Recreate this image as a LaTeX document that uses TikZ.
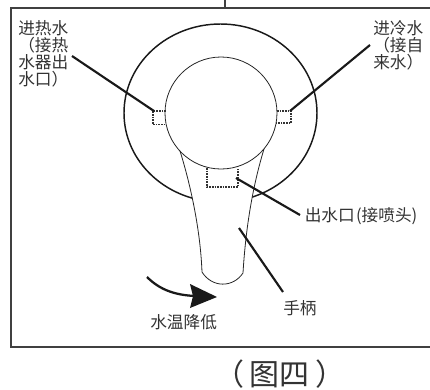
\documentclass[tikz,border=0pt]{standalone}
\usepackage{fontspec}
\setmainfont{Liberation Sans}
\newfontfamily\cjk{Noto Sans CJK SC}
\begin{document}
\begin{tikzpicture}[x=0.75pt,y=-0.75pt,
  frameline/.style={line width=1.4pt,draw=black!75},
  thinline/.style={line width=0.6pt,draw=black!85},
  ringline/.style={line width=1.1pt,draw=black!90},
  leader/.style={line width=1.6pt,draw=black!90},
  dotbox/.style={line width=0.8pt,draw=black!80,dash pattern=on 1.2pt off 0.8pt},
  lab/.style={font=\cjk\fontsize{12.5}{12.75}\selectfont,text=black!80,inner sep=0pt,align=left,anchor=north west}]
\useasboundingbox (0,0) rectangle (430,390);
\draw[frameline] (225,0) -- (225,8);
\draw[frameline] (430,8) -- (11,8) -- (11,347) -- (430,347);
\draw[ringline] (220.5,113) ellipse [x radius=96.5,y radius=89];
\draw[thinline,fill=white] (180,151) .. controls (186,170) and (200,220) .. (202,272)
  .. controls (212,288) and (233,288) .. (243,273)
  .. controls (245,240) and (250,195) .. (264,149);
\draw[thinline] (221,113) ellipse [x radius=56,y radius=56];
\draw[dotbox] (166,111) -- (153,111) -- (153,124.5) -- (165,124.5);
\draw[dotbox] (277,111) -- (291,111) -- (291,123) -- (276,123);
\draw[dotbox,line width=1pt] (207,168) -- (207,187) -- (238,187) -- (238,168);
\coordinate (hotA) at (72,56); \coordinate (hotB) at (154,111);
\coordinate (coldA) at (370,45); \coordinate (coldB) at (290,111);
\coordinate (outA) at (236,178); \coordinate (outB) at (300,215);
\coordinate (hanA) at (239,228); \coordinate (hanB) at (283,292);
\draw[leader] (hotA) -- (hotB);
\draw[leader] (coldA) -- (coldB);
\draw[leader] (outA) -- (outB);
\draw[leader] (hanA) -- (hanB);
\coordinate (arrA) at (147,277); \coordinate (arrB) at (195,296);
\draw[line width=1.7pt,draw=black!90] (arrA) .. controls (160,290) and (175,295) .. (arrB);
\fill[black!90] (190,284) -- (217,297) -- (190,308) -- (193,296) -- cycle;
\node[lab] (hot) at (18,20.5) {进热水\\（接热\\水器出\\水口）};
\node[lab] (cold) at (373,20.5) {进冷水\\（接自\\来水）};
\node[lab] (out) at (304.5,207) {出水口\hspace{1pt}(接喷头)};
\node[lab] (han) at (283,300) {手柄};
\node[lab] (temp) at (150,314) {水温降低};
\node[font=\cjk\fontsize{22.5}{25}\selectfont,text=black!80,inner sep=0] (fig) at (280,374.5) {（\kern4pt图四\kern4pt）};
\end{tikzpicture}
\end{document}
